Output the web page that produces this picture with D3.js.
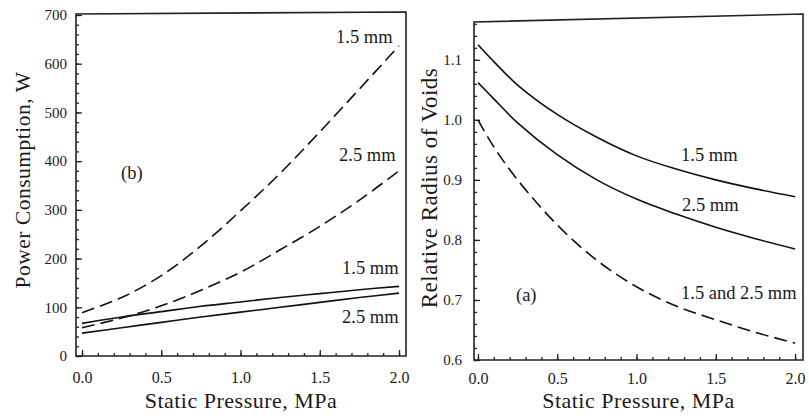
<!DOCTYPE html>
<html>
<head>
<meta charset="utf-8">
<script src="https://cdn.jsdelivr.net/npm/d3@7"></script>
<style>
  body { margin: 0; background: #fff; }
  svg { display: block; }
  svg text { font-family: "Liberation Serif", "DejaVu Serif", "Times New Roman", serif !important; fill: #1a1a1a; }
</style>
</head>
<body>
<svg id="chart" width="809" height="416"></svg>
<script>
const FONT = '"Liberation Serif", "DejaVu Serif", "Times New Roman", serif';

// static pressure (MPa) sample points
const pressureB = [0, 0.25, 0.5, 0.75, 1.0, 1.25, 1.5, 1.75, 2.0];
const pressureA = [0, 0.1, 0.25, 0.5, 0.75, 1.0, 1.25, 1.5, 1.75, 2.0];

// (b) power consumption, W
const powerDashed15 = [89, 120, 165, 226, 298, 375, 460, 548, 637];
const powerDashed25 = [58, 78, 103, 135, 172, 218, 266, 320, 380];
const powerSolid15 = [67, 80, 91, 102, 111, 120, 128, 136, 143];
const powerSolid25 = [47, 58, 69, 80, 90, 100, 110, 120, 129];

// (a) relative radius of voids
const radiusSolid15 = [1.125, 1.097, 1.058, 1.009, 0.971, 0.940, 0.918, 0.900, 0.885, 0.872];
const radiusSolid25 = [1.062, 1.035, 0.995, 0.942, 0.900, 0.868, 0.843, 0.821, 0.802, 0.785];
const radiusDashed = [1.0, 0.955, 0.90, 0.825, 0.766, 0.722, 0.690, 0.667, 0.646, 0.628];

const xTicks = [0, 0.5, 1.0, 1.5, 2.0];
const yTicksB = [0, 100, 200, 300, 400, 500, 600, 700];
const yTicksA = [0.6, 0.7, 0.8, 0.9, 1.0, 1.1];

const svg = d3.select('#chart');

function drawPanel(p) {
  const x = d3.scaleLinear().domain(p.xDomain).range([p.left, p.right]);
  const y = d3.scaleLinear().domain(p.yDomain).range([p.bottom, p.top]);
  const g = svg.append('g');

  // frame (top edge is a bit skewed in the scan)
  g.append('path')
    .attr('d', `M${p.left},${p.bottom} L${p.left},${p.top} L${p.right},${p.topRight} L${p.right},${p.bottom} Z`)
    .attr('fill', 'none').attr('stroke', '#222').attr('stroke-width', 1.6);

  // minor ticks
  g.append('g').attr('transform', `translate(0,${p.bottom})`)
    .call(d3.axisBottom(x).tickValues(d3.range(0, 2.001, 0.1)).tickSize(-3).tickFormat(''))
    .call(s => s.select('.domain').remove());
  g.append('g').attr('transform', `translate(${p.left},0)`)
    .call(d3.axisLeft(y).tickValues(p.yMinor).tickSize(-3).tickFormat(''))
    .call(s => s.select('.domain').remove());

  // major ticks + labels
  const xAxis = g.append('g').attr('transform', `translate(0,${p.bottom})`)
    .call(d3.axisBottom(x).tickValues(xTicks).tickSize(-6).tickPadding(p.xPad).tickFormat(d3.format('.1f')))
    .call(s => s.select('.domain').remove());
  const yAxis = g.append('g').attr('transform', `translate(${p.left},0)`)
    .call(d3.axisLeft(y).tickValues(p.yTicks).tickSize(-6).tickPadding(p.yPad).tickFormat(p.yFormat))
    .call(s => s.select('.domain').remove());

  g.selectAll('g').attr('font-family', FONT);
  g.selectAll('.tick line').attr('stroke', '#222').attr('stroke-width', 1.3);
  xAxis.selectAll('.tick text').attr('font-size', 16).attr('fill', '#333');
  yAxis.selectAll('.tick text').attr('font-size', 15).attr('fill', '#333');

  const line = d3.line().x(d => x(d[0])).y(d => y(d[1])).curve(d3.curveCatmullRom.alpha(0.5));
  p.series.forEach(s => {
    g.append('path')
      .datum(p.xs.map((v, i) => [v, s.values[i]]))
      .attr('d', line)
      .attr('fill', 'none')
      .attr('stroke', '#111')
      .attr('stroke-width', 1.6)
      .attr('stroke-dasharray', s.dashed ? '13,6' : null);
  });

  // axis titles
  g.append('text')
    .attr('x', (p.left + p.right) / 2).attr('y', 408)
    .attr('text-anchor', 'middle')
    .attr('font-family', FONT).attr('font-size', 22)
    .attr('letter-spacing', 0.5)
    .text('Static Pressure, MPa');
  g.append('text')
    .attr('transform', `translate(${p.titleX},${p.titleY}) rotate(-90)`)
    .attr('text-anchor', 'middle')
    .attr('font-family', FONT).attr('font-size', p.titleSize)
    .attr('letter-spacing', 0.5)
    .text(p.yTitle);

  p.labels.forEach(l => {
    g.append('text')
      .attr('x', l.x).attr('y', l.y)
      .attr('font-family', FONT).attr('font-size', 18.5)
      .text(l.text);
  });
}

drawPanel({
  left: 76, right: 406, top: 14, topRight: 12, bottom: 356,
  xDomain: [-0.038, 2.044], yDomain: [0, 702],
  yTicks: yTicksB, yMinor: d3.range(0, 701, 20), yFormat: d3.format('d'),
  xPad: 16, yPad: 9,
  xs: pressureB,
  series: [
    { values: powerDashed15, dashed: true },
    { values: powerDashed25, dashed: true },
    { values: powerSolid15, dashed: false },
    { values: powerSolid25, dashed: false }
  ],
  yTitle: 'Power Consumption, W', titleX: 30, titleY: 180, titleSize: 21.5,
  labels: [
    { x: 336, y: 43, text: '1.5 mm' },
    { x: 339, y: 161, text: '2.5 mm' },
    { x: 121, y: 179, text: '(b)' },
    { x: 342, y: 274, text: '1.5 mm' },
    { x: 342, y: 323, text: '2.5 mm' }
  ]
});

drawPanel({
  left: 474, right: 803, top: 22, topRight: 14, bottom: 360,
  xDomain: [-0.025, 2.05], yDomain: [0.6, 1.163],
  yTicks: yTicksA, yMinor: d3.range(0.6, 1.161, 0.02), yFormat: d3.format('.1f'),
  xPad: 13, yPad: 12,
  xs: pressureA,
  series: [
    { values: radiusSolid15, dashed: false },
    { values: radiusSolid25, dashed: false },
    { values: radiusDashed, dashed: true }
  ],
  yTitle: 'Relative Radius of Voids', titleX: 437, titleY: 188, titleSize: 23,
  labels: [
    { x: 681, y: 161, text: '1.5 mm' },
    { x: 682, y: 211, text: '2.5 mm' },
    { x: 516, y: 301, text: '(a)' },
    { x: 681, y: 299, text: '1.5 and 2.5 mm' }
  ]
});
</script>
</body>
</html>
